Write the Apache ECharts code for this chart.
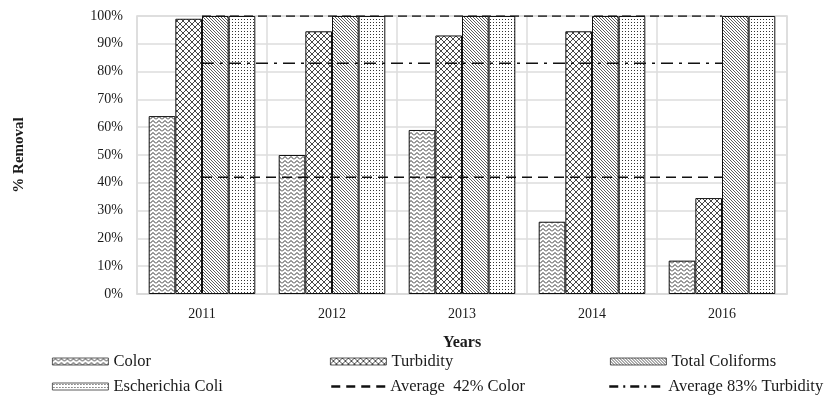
<!DOCTYPE html>
<html><head><meta charset="utf-8">
<script src="https://cdn.jsdelivr.net/npm/echarts@6/dist/echarts.min.js"></script>
<style>html,body{margin:0;padding:0;background:#fff}#c{width:838px;height:398px}</style>
</head><body><div id="c"></div>
<script>
const years = ['2011','2012','2013','2014','2016'];
const colorRemoval = [64, 50, 59, 26, 12];
const turbidityRemoval = [99, 94.5, 93, 94.5, 34.5];
const totalColiforms = [100, 100, 100, 100, 100];
const eColi = [100, 100, 100, 100, 100];
const avgColor = [42, 42, 42, 42, 42];
const avgTurbidity = [83, 83, 83, 83, 83];
const topLine = [100, 100, 100, 100, 100];

function pat(w, h, draw) {
  const c = document.createElement('canvas');
  c.width = w; c.height = h;
  const g = c.getContext('2d');
  g.fillStyle = '#fff'; g.fillRect(0, 0, w, h);
  g.strokeStyle = '#333'; g.fillStyle = '#333'; g.lineWidth = 1;
  draw(g);
  return { image: c, repeat: 'repeat' };
}
const zig = pat(6, 4, g => { g.beginPath(); g.moveTo(0, 3.5); g.lineTo(3, 0.5); g.lineTo(6, 3.5); g.stroke(); });
const cross = pat(6, 6, g => { g.lineWidth = 0.9; g.beginPath(); g.moveTo(0, 0); g.lineTo(6, 6); g.moveTo(6, 0); g.lineTo(0, 6); g.stroke(); });
const diag = pat(3, 3, g => { g.lineWidth = 0.8; g.beginPath(); g.moveTo(-1, -1); g.lineTo(4, 4); g.moveTo(-1, 2); g.lineTo(1, 4); g.moveTo(2, -1); g.lineTo(4, 1); g.stroke(); });
const dots = pat(3, 3, g => { g.fillRect(1, 1, 1, 1); });

const serif = '"Liberation Serif", "DejaVu Serif", serif';
const bar = (name, data, fill) => ({
  name, type: 'bar', data, barGap: '0%', barCategoryGap: '18%',
  itemStyle: { color: fill, borderColor: '#111', borderWidth: 1 }, z: 2
});
const line = (name, data, dash) => ({
  name, type: 'line', data, symbol: 'none', showSymbol: false, z: 5,
  lineStyle: { color: '#111', width: 1.6, type: dash }, itemStyle: { color: '#111' }
});
const legendText = { fontFamily: serif, fontSize: 16.5, color: '#1a1a1a' };
const barLegend = { icon: 'rect', padding: 0, itemWidth: 56, itemHeight: 7, textStyle: legendText, itemGap: 6,
  itemStyle: { borderColor: '#333', borderWidth: 0.8 } };
const lineLegend = (dash) => ({ padding: 0, itemWidth: 54, itemHeight: 8, textStyle: legendText, itemGap: 6,
  itemStyle: { opacity: 0 }, lineStyle: { width: 2.5, type: dash } });

const chart = echarts.init(document.getElementById('c'));
chart.setOption({
  animation: false,
  backgroundColor: '#fff',
  grid: { left: 137, right: 51, top: 16, bottom: 104, show: true, borderColor: '#d9d9d9', borderWidth: 1.5 },
  xAxis: {
    type: 'category', data: years, name: 'Years', nameLocation: 'middle', nameGap: 41,
    nameTextStyle: { fontFamily: serif, fontSize: 16, fontWeight: 'bold', color: '#1a1a1a' },
    axisLine: { lineStyle: { color: '#d9d9d9', width: 1.5 } }, axisTick: { show: false },
    axisLabel: { fontFamily: serif, fontSize: 14, color: '#1a1a1a', margin: 13 },
    splitLine: { show: true, lineStyle: { color: '#dcdcdc', width: 1.5 } }
  },
  yAxis: {
    type: 'value', min: 0, max: 100, interval: 10, name: '% Removal', nameLocation: 'middle', nameGap: 110,
    nameTextStyle: { fontFamily: serif, fontSize: 15, fontWeight: 'bold', color: '#1a1a1a' },
    axisLabel: { formatter: '{value}%', fontFamily: serif, fontSize: 14, color: '#1a1a1a', margin: 14 },
    axisLine: { show: false }, axisTick: { show: false },
    splitLine: { lineStyle: { color: '#dcdcdc', width: 1.5 } }
  },
  legend: [
    Object.assign({ left: 52, top: 353, data: ['Color'] }, barLegend),
    Object.assign({ left: 330, top: 353, data: ['Turbidity'] }, barLegend),
    Object.assign({ left: 610, top: 353, data: ['Total Coliforms'] }, barLegend),
    Object.assign({ left: 52, top: 378, data: ['Escherichia Coli'] }, barLegend),
    Object.assign({ left: 330, top: 378, data: ['Average  42% Color'] }, lineLegend([9, 6])),
    Object.assign({ left: 608, top: 378, data: ['Average 83% Turbidity'] }, lineLegend([9, 5, 2, 5]))
  ],
  series: [
    bar('Color', colorRemoval, zig),
    bar('Turbidity', turbidityRemoval, cross),
    bar('Total Coliforms', totalColiforms, diag),
    bar('Escherichia Coli', eColi, dots),
    line('Average  42% Color', avgColor, [10, 6]),
    line('Average 83% Turbidity', avgTurbidity, [12, 6, 3, 6]),
    line('top', topLine, [9, 5])
  ]
});
</script></body></html>
